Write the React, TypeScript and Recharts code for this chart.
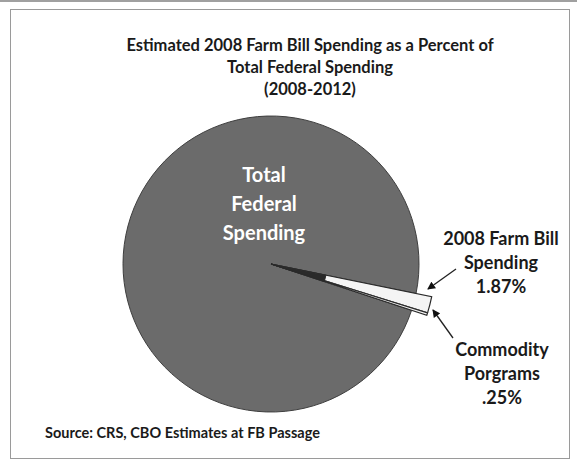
import React from 'react';
import { PieChart, Pie, Cell } from 'recharts';

// values (percent of total federal spending, 2008-2012)
const farmBillPct = 1.87;
const commodityPct = 0.25;

const sliceNames = ['2008 Farm Bill Spending', 'Commodity Porgrams', 'Total Federal Spending'];
// farm bill share excluding commodity programs, commodity programs, rest of federal spending
const sliceValues = [farmBillPct - commodityPct, commodityPct, 100 - farmBillPct];

const titleLines = ['Estimated 2008 Farm Bill Spending as a Percent of', 'Total Federal Spending', '(2008-2012)'];
const sourceNote = 'Source: CRS, CBO Estimates at FB Passage';

const pieData = sliceNames.map((name, i) => ({ name, value: sliceValues[i] }));

const FONT = 'Lato, "Open Sans", sans-serif';

const textBlock = (lines: string[], style: React.CSSProperties) => (
  <div style={{ position: 'absolute', textAlign: 'center', fontFamily: FONT, fontWeight: 700, ...style }}>
    {lines.map((l, i) => (
      <div key={i}>{l}</div>
    ))}
  </div>
);

export default function App() {
  const pieProps = {
    data: pieData,
    dataKey: 'value',
    nameKey: 'name',
    cx: 266,
    cy: 259,
    startAngle: -11.5,
    endAngle: -371.5,
    isAnimationActive: false,
  };
  return (
    <div style={{ position: 'fixed', left: 0, top: 0, width: 577, height: 462, background: '#fff', borderTop: '2px solid #a0a0a0', boxSizing: 'border-box' }}>
      <div style={{ position: 'absolute', left: 10, top: 7, width: 558, height: 448, border: '1px solid #9a9a9a', background: '#fff' }} />
      <div style={{ position: 'absolute', left: 0, top: -2 }}>
        <PieChart width={577} height={462}>
          {/* the big grey slice */}
          <Pie {...pieProps} outerRadius={148}>
            {pieData.map((d, i) => (
              <Cell key={i} fill={i === 2 ? '#6b6b6b' : 'none'} stroke={i === 2 ? '#3e3e3e' : 'none'} strokeWidth={1} />
            ))}
          </Pie>
          {/* farm bill + commodity sliver sticks out past the rim */}
          <Pie {...pieProps} outerRadius={164}>
            {pieData.map((d, i) => (
              <Cell key={i} fill={i === 2 ? 'none' : '#f4f4f4'} stroke={i === 2 ? 'none' : '#2a2a2a'} strokeWidth={1.2} />
            ))}
          </Pie>
          {/* near the centre the outlines merge into a dark point */}
          <Pie {...pieProps} outerRadius={56}>
            {pieData.map((d, i) => (
              <Cell key={i} fill={i === 2 ? 'none' : '#2a2a2a'} stroke={i === 2 ? 'none' : '#2a2a2a'} strokeWidth={1} />
            ))}
          </Pie>
        </PieChart>
      </div>

      <svg width={577} height={462} style={{ position: 'absolute', left: 0, top: -2 }}>
        <defs>
          <marker id="arr" markerWidth="8" markerHeight="8" refX="7" refY="4" orient="auto" markerUnits="userSpaceOnUse">
            <path d="M0,0 L8,4 L0,8 z" fill="#111" />
          </marker>
        </defs>
        <line x1={456} y1={269} x2={428} y2={289} stroke="#222" strokeWidth={1.3} markerEnd="url(#arr)" />
        <line x1={453} y1={338} x2={433} y2={310} stroke="#222" strokeWidth={1.3} markerEnd="url(#arr)" />
      </svg>

      {textBlock(titleLines, { left: 110, width: 400, top: 32, fontSize: 16.5, lineHeight: '22px', color: '#1a1a1a' })}
      {textBlock(['Total', 'Federal', 'Spending'], { left: 204, width: 120, top: 158, fontSize: 20, lineHeight: '29px', color: '#fff' })}
      {textBlock(['2008 Farm Bill', 'Spending', `${farmBillPct.toFixed(2)}%`], { left: 431, width: 140, top: 224, fontSize: 18, lineHeight: '24px', color: '#1a1a1a' })}
      {textBlock(['Commodity', 'Porgrams', `.${Math.round(commodityPct * 100)}%`], { left: 432, width: 140, top: 335, fontSize: 18, lineHeight: '24px', color: '#1a1a1a' })}
      <div style={{ position: 'absolute', left: 45, top: 422, fontFamily: FONT, fontWeight: 700, fontSize: 14.5, color: '#1a1a1a' }}>{sourceNote}</div>
    </div>
  );
}
